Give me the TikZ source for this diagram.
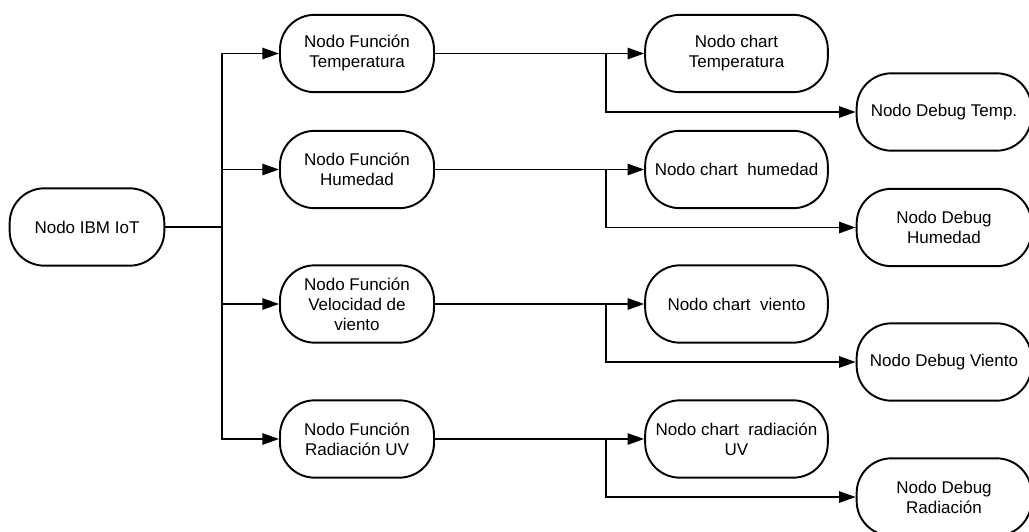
\documentclass[tikz,border=0pt]{standalone}
\usepackage{fontspec}
\setmainfont{Liberation Sans}
\usetikzlibrary{arrows.meta}

\begin{document}
\begin{tikzpicture}[x=0.75pt,y=-0.75pt,
  flownode/.style={draw, line width=1.45pt, fill=white, rounded corners=26pt,
    minimum height=58pt, align=center, inner sep=2pt,
    font=\fontsize{12.75}{15}\selectfont},
  src/.style={flownode, minimum width=116pt},
  func/.style={flownode, minimum width=115.5pt},
  chart/.style={flownode, minimum width=137pt},
  dbg/.style={flownode, minimum width=131pt},
  link/.style={line width=1.35pt},
  arrow/.style={link, -{Triangle[length=12.5pt,width=8.5pt]}}]
\useasboundingbox (0,0) rectangle (1029,532);
\clip (0,0) rectangle (1029,532);

% source
\node[src] (ibm) at (87,227) {Nodo IBM IoT};

% function nodes
\node[func] (fT) at (357,53.5) {Nodo Función\\Temperatura};
\node[func] (fH) at (357,169.5) {Nodo Función\\Humedad};
\node[func] (fV) at (357,304) {Nodo Función\\Velocidad de\\viento};
\node[func] (fR) at (357,439) {Nodo Función\\Radiación UV};

% chart nodes
\node[chart] (cT) at (736.5,53.5) {Nodo chart\\Temperatura};
\node[chart] (cH) at (736.5,169.5) {Nodo chart~ humedad};
\node[chart] (cV) at (736.5,304) {Nodo chart~ viento};
\node[chart] (cR) at (736.5,439) {Nodo chart~ radiación\\UV};

% debug nodes
\node[dbg] (dT) at (944,112) {Nodo Debug Temp.};
\node[dbg] (dH) at (944,227.5) {Nodo Debug\\Humedad};
\node[dbg] (dV) at (944,362) {Nodo Debug Viento};
\node[dbg] (dR) at (944,497) {Nodo Debug\\Radiación};

% bus from the source to the function nodes
\coordinate (bus) at (222,227);
\draw[link] (ibm.east) -- (bus);
\foreach \f in {fT,fH,fV,fR}
  \draw[arrow] (bus) |- (\f.west);

% function -> chart, branching down to debug
\foreach \f/\c/\d in {fT/cT/dT, fH/cH/dH, fV/cV/dV, fR/cR/dR}{
  \draw[arrow] (\f.east) -- (\c.west);
  \coordinate (s\f) at (606,0 |- \f.east);
  \draw[arrow] (s\f) |- (\d.west);
}
\end{tikzpicture}
\end{document}
